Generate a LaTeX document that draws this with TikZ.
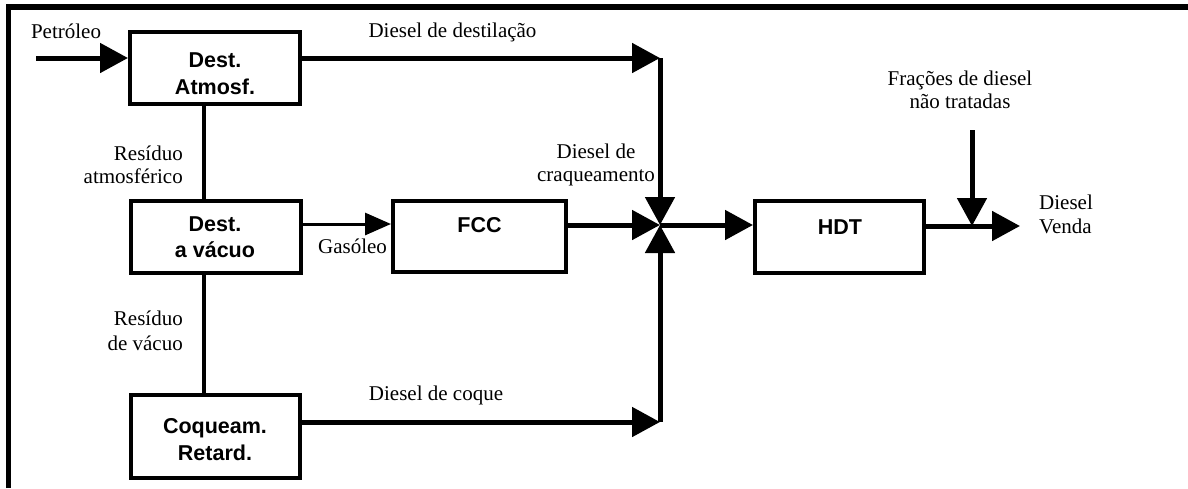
\documentclass[tikz,border=0pt]{standalone}
\usepackage{fontspec}
\setmainfont{Liberation Serif}
\newfontfamily\blockfont{Liberation Sans}
\usetikzlibrary{arrows.meta}

\begin{document}
\begin{tikzpicture}[x=1pt,y=-1pt,
  unit/.style={draw, line width=4pt, inner sep=0pt, fill=white},
  blocktext/.style={font=\blockfont\bfseries\fontsize{21.5}{26.5}\selectfont, align=center, inner sep=0pt},
  tag/.style={font=\fontsize{21}{23.5}\selectfont, inner sep=0pt},
  flow/.style={line width=5pt, -{Triangle[length=28pt,width=29pt]}},
  thinflow/.style={line width=3pt, -{Triangle[length=26pt,width=22pt]}},
  link/.style={line width=4pt}]
\useasboundingbox (0,0) rectangle (1188,488);

% frame: top and left edges only
\draw[line width=5.5pt] (8.5,488) -- (8.5,7) -- (1188,7);

% process units
\node[unit, minimum width=170pt, minimum height=72pt] (atm) at (215,68) {};
\node[unit, minimum width=170pt, minimum height=72pt] (vac) at (216,237) {};
\node[unit, minimum width=173pt, minimum height=71pt] (fcc) at (479.5,236.5) {};
\node[unit, minimum width=169pt, minimum height=72pt] (hdt) at (839.5,237) {};
\node[unit, minimum width=169pt, minimum height=83pt] (coq) at (215.5,436.5) {};

\node[blocktext] (atmT) at (215,73.5) {Dest.\\Atmosf.};
\node[blocktext] (vacT) at (215,237.3) {Dest.\\a vácuo};
\node[blocktext, anchor=base] (fccT) at (479.5,232) {FCC};
\node[blocktext, anchor=base] (hdtT) at (840,234) {HDT};
\node[blocktext] (coqT) at (215,439.8) {Coqueam.\\Retard.};

% junction and bend points
\coordinate (feed) at (36,58);
\coordinate (bend) at (660,58);
\coordinate (mix) at (660,225);
\coordinate (cokeend) at (660,422);
\coordinate (gas) at (0,224);
\coordinate (res) at (204,0);
\coordinate (sale) at (1020,226);
\coordinate (raw) at (972,130);

% streams
\draw[flow] (feed) -- (feed -| atm.west);
\draw[flow] (bend -| atm.east) -- (bend);
\draw[flow] (bend) -- (mix);
\draw[link] (atm.south -| res) -- (vac.north -| res);
\draw[thinflow] (vac.east |- gas) -- (fcc.west |- gas);
\draw[link] (vac.south -| res) -- (coq.north -| res);
\draw[flow] (mix -| fcc.east) -- (mix);
\draw[flow] (coq.east |- cokeend) -- (cokeend);
\draw[flow] (cokeend) -- (mix);
\draw[flow] (mix) -- (mix -| hdt.west);
\draw[flow] (sale -| hdt.east) -- (sale);
\draw[flow] (raw) -- (raw |- sale);

% stream labels
\node[tag, anchor=base] (lPet) at (66,38) {Petróleo};
\node[tag, anchor=base] (lDest) at (452.5,37) {Diesel de destilação};
\node[tag, anchor=north east, align=right, font=\fontsize{21}{23}\selectfont] (lResA) at (183,145.7) {Resíduo\\atmosférico};
\node[tag, anchor=north east, align=right, font=\fontsize{21}{25}\selectfont] (lResV) at (183,310.7) {Resíduo\\de vácuo};
\node[tag, anchor=base] (lGas) at (352.5,253) {Gasóleo};
\node[tag, anchor=north, align=center] (lCraq) at (596,143.7) {Diesel de\\craqueamento};
\node[tag, anchor=north, align=center, font=\fontsize{21}{23}\selectfont] (lFrac) at (960,70.7) {Frações de diesel\\não tratadas};
\node[tag, anchor=north west, align=left, font=\fontsize{21}{24}\selectfont] (lVenda) at (1039,194.7) {Diesel\\Venda};
\node[tag, anchor=base] (lCoq) at (436,400) {Diesel de coque};
\end{tikzpicture}
\end{document}
